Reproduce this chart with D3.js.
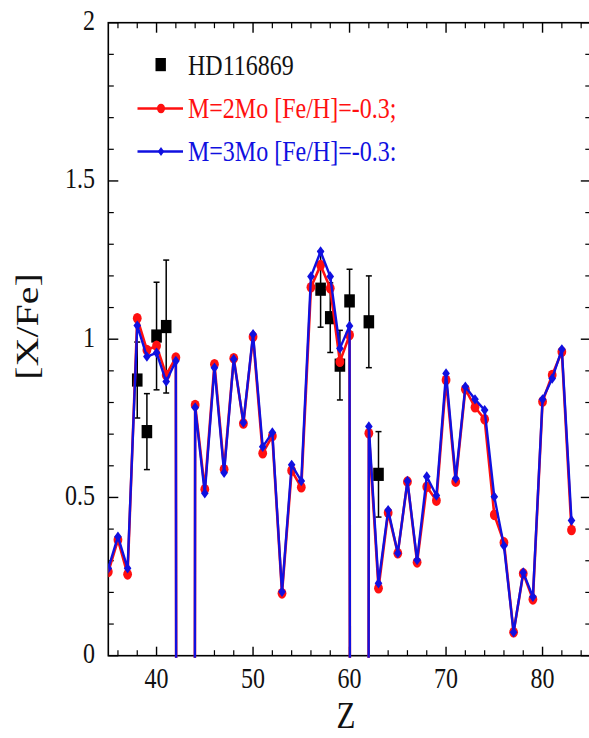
<!DOCTYPE html>
<html><head><meta charset="utf-8">
<script src="https://cdn.jsdelivr.net/npm/d3@7"></script>
<style>body{margin:0;background:#fff;} svg{display:block;}</style>
</head><body>
<script>
// ---- data ----
const zModel = [35,36,37,38,39,40,41,42,43,44,45,46,47,48,49,50,51,52,53,54,55,56,57,58,59,60,61,62,63,64,65,66,67,68,69,70,71,72,73,74,75,76,77,78,79,80,81,82,83];
// Z=43 (Tc) and Z=61 (Pm) fall far below the plotted range
const m2Values = [0.265,0.366,0.257,1.066,0.966,0.979,0.887,0.942,-30,0.792,0.526,0.921,0.589,0.94,0.734,1.008,0.64,0.694,0.197,0.585,0.532,1.164,1.234,1.161,0.929,1.013,-30,0.703,0.213,0.452,0.324,0.55,0.295,0.534,0.49,0.871,0.55,0.842,0.785,0.747,0.445,0.358,0.074,0.26,0.178,0.803,0.887,0.96,0.397];
const m3Values = [0.276,0.376,0.276,1.043,0.945,0.957,0.866,0.931,-30,0.784,0.513,0.91,0.578,0.937,0.737,1.016,0.66,0.705,0.202,0.603,0.552,1.198,1.277,1.198,0.971,1.042,-30,0.724,0.229,0.46,0.324,0.552,0.302,0.566,0.506,0.892,0.56,0.85,0.81,0.776,0.502,0.347,0.074,0.263,0.186,0.81,0.876,0.968,0.427];
const zObs = [38,39,40,41,57,58,59,60,62,63];
const obsValues = [0.871,0.708,1.01,1.04,1.158,1.068,0.918,1.121,1.055,0.573];
const obsErrors = [0.12,0.12,0.17,0.21,0.12,0.11,0.11,0.10,0.145,0.135];
const xMajorTicks = [40,50,60,70,80];
const yMajorTicks = [0,0.5,1,1.5,2];
const yTickLabels = ["0","0.5","1","1.5","2"];
const legendLabels = ["HD116869","M=2Mo [Fe/H]=-0.3;","M=3Mo [Fe/H]=-0.3:"];

// ---- layout ----
const W = 589, H = 738;
const pL = 108.3, pR = 590.8, pT = 22.7, pB = 655.7;
const SY = 1.25; // vertical text stretch
const RED = "#ff1010", BLUE = "#1010e0";
const FONT = "'Liberation Serif','Times New Roman',serif";

const x = d3.scaleLinear().domain([35,85]).range([pL,pR]);
const y = d3.scaleLinear().domain([0,2]).range([pB,pT]);

const svg = d3.select("body").append("svg").attr("width",W).attr("height",H);

svg.append("defs").append("clipPath").attr("id","plotclip")
  .append("rect").attr("x",pL).attr("y",pT).attr("width",pR-pL).attr("height",pB-pT+2);

// axes frame with inward ticks
const axisG = svg.append("g").attr("stroke","#000").attr("fill","none");
const minorX = d3.range(36,85,2).filter(v=>!xMajorTicks.includes(v));
const minorY = d3.range(1,20).map(i=>i/10).filter(v=>!yMajorTicks.some(t=>Math.abs(t-v)<1e-6));

xMajorTicks.forEach(v=>{
  axisG.append("line").attr("x1",x(v)).attr("x2",x(v)).attr("y1",pB).attr("y2",pB-9).attr("stroke-width",1.4);
  axisG.append("line").attr("x1",x(v)).attr("x2",x(v)).attr("y1",pT).attr("y2",pT+10).attr("stroke-width",1.4);
});
minorX.forEach(v=>{
  axisG.append("line").attr("x1",x(v)).attr("x2",x(v)).attr("y1",pB).attr("y2",pB-5.5).attr("stroke-width",1.2);
  axisG.append("line").attr("x1",x(v)).attr("x2",x(v)).attr("y1",pT).attr("y2",pT+5.5).attr("stroke-width",1.2);
});
yMajorTicks.forEach(v=>{
  axisG.append("line").attr("x1",pL).attr("x2",pL+10).attr("y1",y(v)).attr("y2",y(v)).attr("stroke-width",1.4);
  axisG.append("line").attr("x1",pR).attr("x2",pR-10).attr("y1",y(v)).attr("y2",y(v)).attr("stroke-width",1.4);
});
minorY.forEach(v=>{
  axisG.append("line").attr("x1",pL).attr("x2",pL+5.5).attr("y1",y(v)).attr("y2",y(v)).attr("stroke-width",1.2);
  axisG.append("line").attr("x1",pR).attr("x2",pR-5.5).attr("y1",y(v)).attr("y2",y(v)).attr("stroke-width",1.2);
});
axisG.append("rect").attr("x",pL).attr("y",pT).attr("width",pR-pL).attr("height",pB-pT).attr("stroke-width",1.6);

// tick labels
const textG = svg.append("g").attr("font-family",FONT).attr("fill","#111");
xMajorTicks.forEach(v=>{
  textG.append("text").attr("transform",`translate(${x(v)},${pB+32}) scale(1,${SY})`)
    .attr("text-anchor","middle").attr("font-size",24).text(v);
});
yMajorTicks.forEach((v,i)=>{
  textG.append("text").attr("transform",`translate(95,${y(v)+7.5}) scale(1,${SY})`)
    .attr("text-anchor","end").attr("font-size",24).text(yTickLabels[i]);
});
// axis titles
textG.append("text").attr("transform",`translate(346,728) scale(1,${SY})`)
  .attr("text-anchor","middle").attr("font-size",31).text("Z");
textG.append("text").attr("transform",`translate(38,326.5) scale(1,${SY}) rotate(-90)`)
  .attr("text-anchor","middle").attr("font-size",32).text("[X/Fe]");

// observations
const obs = zObs.map((z,i)=>({z, v:obsValues[i], e:obsErrors[i]}));
const obsG = svg.append("g");
obsG.selectAll("g.eb").data(obs).join("g").attr("class","eb").each(function(d){
  const g = d3.select(this);
  g.append("line").attr("x1",x(d.z)).attr("x2",x(d.z)).attr("y1",y(d.v+d.e)).attr("y2",y(d.v-d.e)).attr("stroke","#000").attr("stroke-width",1.5);
  [d.v+d.e,d.v-d.e].forEach(t=>g.append("line").attr("x1",x(d.z)-3).attr("x2",x(d.z)+3).attr("y1",y(t)).attr("y2",y(t)).attr("stroke","#000").attr("stroke-width",1.5));
});
obsG.selectAll("rect").data(obs).join("rect")
  .attr("x",d=>x(d.z)-5.3).attr("y",d=>y(d.v)-6.6).attr("width",10.6).attr("height",13.2).attr("fill","#000");

// models
const plot = svg.append("g").attr("clip-path","url(#plotclip)");
const line = d3.line().x(d=>x(d.z)).y(d=>y(d.v));
const m2 = zModel.map((z,i)=>({z, v:m2Values[i]}));
const m3 = zModel.map((z,i)=>({z, v:m3Values[i]}));
const diamond = "M0,-5.2L3.8,0L0,5.2L-3.8,0Z";

plot.append("path").datum(m2).attr("d",line).attr("fill","none").attr("stroke",RED).attr("stroke-width",2.6).attr("stroke-linejoin","round");
plot.selectAll("ellipse.m2").data(m2).join("ellipse").attr("class","m2")
  .attr("cx",d=>x(d.z)).attr("cy",d=>y(d.v)).attr("rx",4.4).attr("ry",5.3).attr("fill",RED);
plot.append("path").datum(m3).attr("d",line).attr("fill","none").attr("stroke",BLUE).attr("stroke-width",2.4).attr("stroke-linejoin","round");
plot.selectAll("path.m3").data(m3).join("path").attr("class","m3")
  .attr("transform",d=>`translate(${x(d.z)},${y(d.v)})`).attr("d",diamond).attr("fill",BLUE);

// legend
const lg = svg.append("g").attr("font-family",FONT).attr("font-size",24);
lg.append("rect").attr("x",155.5).attr("y",58).attr("width",10.4).attr("height",13.2).attr("fill","#000");
lg.append("text").attr("transform",`translate(188,75) scale(1,${SY})`).attr("fill","#111").text(legendLabels[0]);
lg.append("line").attr("x1",137.5).attr("x2",183).attr("y1",108.5).attr("y2",108.5).attr("stroke",RED).attr("stroke-width",2.4);
lg.append("ellipse").attr("cx",161).attr("cy",108.5).attr("rx",4).attr("ry",4.8).attr("fill",RED);
lg.append("text").attr("transform",`translate(188,117.5) scale(1,${SY})`).attr("fill",RED).text(legendLabels[1]);
lg.append("line").attr("x1",137.5).attr("x2",183).attr("y1",151.5).attr("y2",151.5).attr("stroke",BLUE).attr("stroke-width",2.4);
lg.append("path").attr("transform","translate(161,151.5)").attr("d","M0,-4.5L3.2,0L0,4.5L-3.2,0Z").attr("fill",BLUE);
lg.append("text").attr("transform",`translate(188,160.5) scale(1,${SY})`).attr("fill",BLUE).text(legendLabels[2]);
</script>
</body></html>
